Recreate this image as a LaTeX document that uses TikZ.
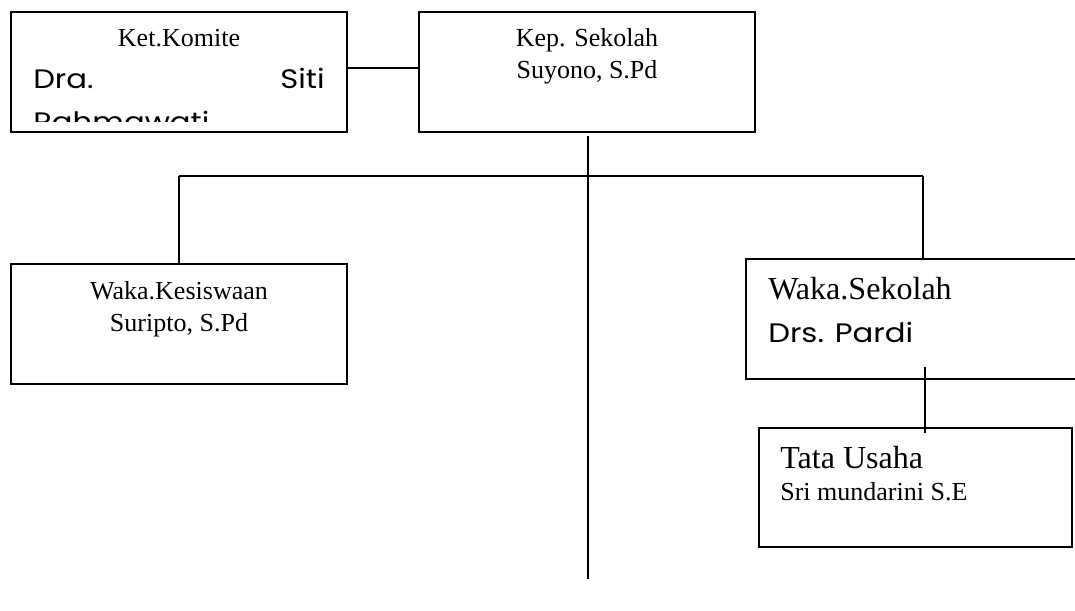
\documentclass[tikz,border=0pt]{standalone}
\usepackage{fontspec}
\setmainfont{Liberation Serif}
\newfontfamily\comicfont[FakeStretch=1.15]{Poppins}
\usepackage{tikz}
\usetikzlibrary{calc,positioning}
\newcommand{\garis}{1.3pt}
\newcommand{\teksbiasa}{\fontsize{18.5}{22.7}\selectfont}
\newcommand{\teksbesar}{\fontsize{22.8}{27}\selectfont}
\newcommand{\tekscomic}{\comicfont\fontsize{19}{25}\selectfont}
\tikzset{
  kotak/.style={draw, line width=\garis, inner sep=0pt, minimum width=8.4cm, minimum height=3cm},
  teks/.style={inner sep=0pt, anchor=base, font=\teksbiasa},
  hubung/.style={line width=\garis}
}

\begin{document}
\begin{tikzpicture}
\path[use as bounding box, clip] (0,0) rectangle (26.875,-15.275);
% kotak-kotak
\node[kotak] (komite) at (4.475, -1.8) {};
\node[kotak] (kepsek) at (14.675, -1.8) {};
\node[kotak] (kesiswaan) at (4.475, -8.1) {};
\node[kotak, minimum width=9cm] (wakasek) at (23.15, -7.975) {};
\node[kotak, minimum width=7.825cm, minimum height=2.975cm] (tu) at (22.8875, -12.1875) {};
% isi
\node[teks] (komite-jab) at (4.475, -1.175) {Ket.Komite};
\begin{scope}
\clip (0.3, -0.3) rectangle (8.65, -3.05);
\node[teks, anchor=base west, font=\tekscomic] (komite-nama1) at (0.825, -2.225) {Dra.};
\node[teks, anchor=base east, font=\tekscomic] (komite-nama2) at (8.125, -2.225) {Siti};
\node[teks, anchor=base west, font=\tekscomic] (komite-nama3) at (0.825, -3.3) {Rahmawati};
\end{scope}
\node[teks] (kepsek-jab) at (14.675, -1.175) {Kep. Sekolah};
\node[teks] (kepsek-nama) at (14.675, -1.975) {Suyono, S.Pd};
\node[teks] (kesiswaan-jab) at (4.475, -7.475) {Waka.Kesiswaan};
\node[teks] (kesiswaan-nama) at (4.475, -8.275) {Suripto, S.Pd};
\node[teks, anchor=base west, font=\teksbesar] (wakasek-jab) at (19.2, -7.475) {Waka.Sekolah};
\node[teks, anchor=base west, font=\tekscomic] (wakasek-nama) at (19.2, -8.55) {Drs. Pardi};
\node[teks, anchor=base west, font=\teksbesar] (tu-jab) at (19.5, -11.7) {Tata Usaha};
\node[teks, anchor=base west] (tu-nama) at (19.5, -12.5) {Sri mundarini S.E};
% garis
\coordinate (cabang-kiri) at (4.475, -4.4);
\coordinate (cabang-kanan) at (23.075, -4.4);
\coordinate (pusat-bawah) at (14.7, -14.475);
\coordinate (tu-atas) at (23.125, -9.175);
\coordinate (tu-bawah) at (23.125, -10.825);
\draw[hubung] ([yshift=0.1cm]komite.east) -- ([yshift=0.1cm]kepsek.west);
\draw[hubung] ([yshift=-0.075cm]kepsek.south -| pusat-bawah) -- (pusat-bawah);
\draw[hubung] (cabang-kiri) -- (cabang-kanan);
\draw[hubung] (cabang-kiri) -- (kesiswaan.north);
\draw[hubung] (cabang-kanan) -- (cabang-kanan |- wakasek.north);
\draw[hubung] (tu-atas) -- (tu-bawah);
\end{tikzpicture}
\end{document}
